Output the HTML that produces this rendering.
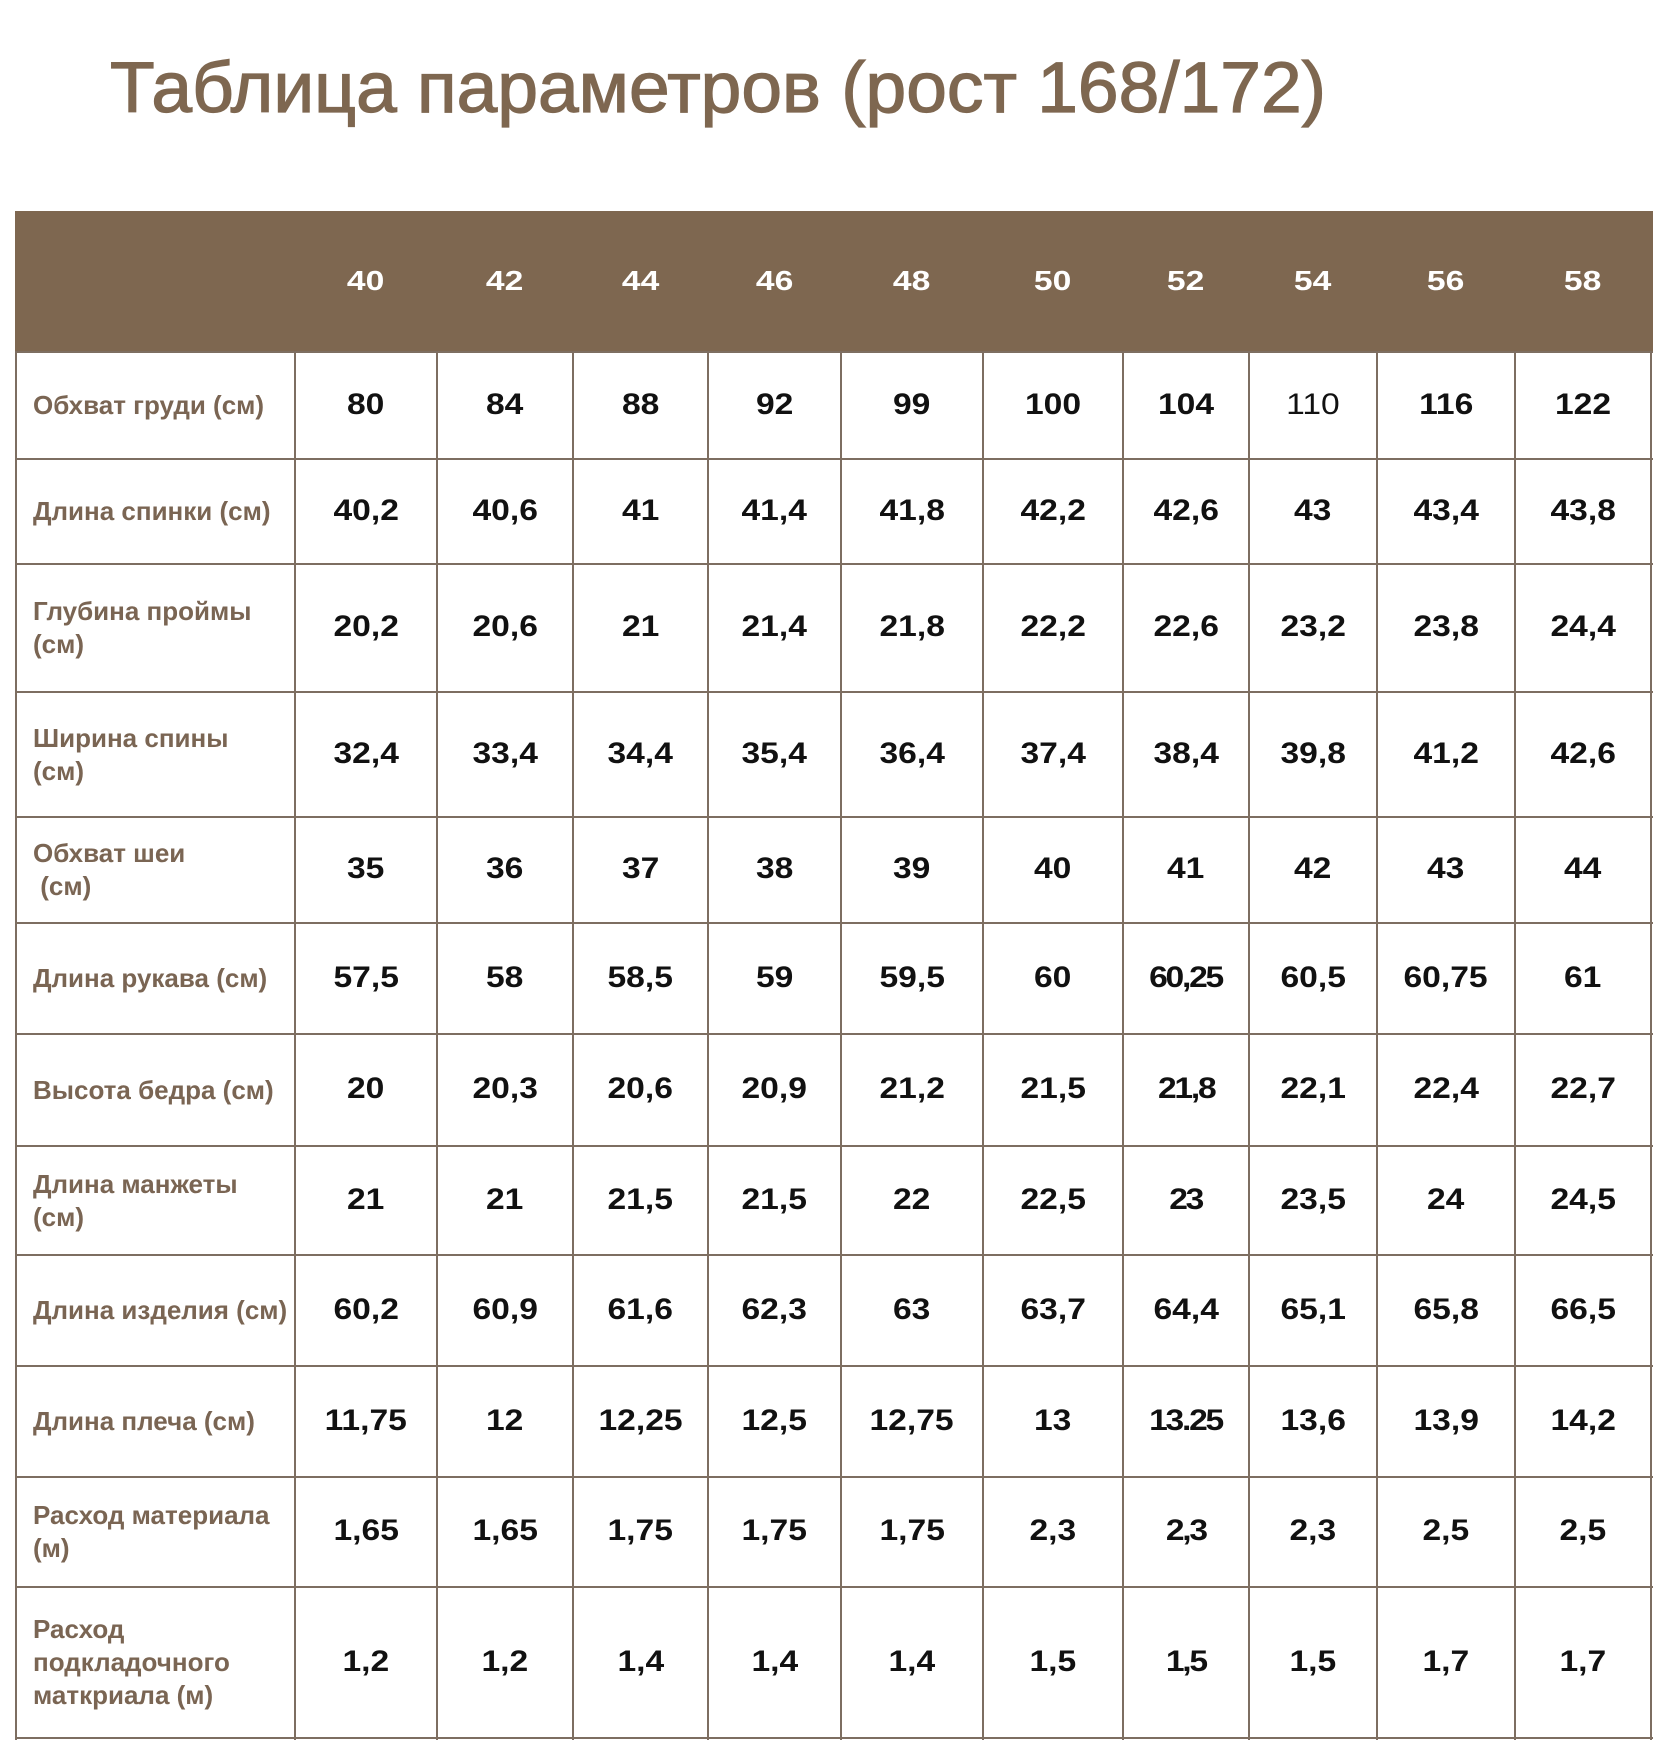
<!DOCTYPE html>
<html><head><meta charset="utf-8">
<style>
html,body{margin:0;padding:0;background:#fff;}
body{width:1680px;height:1763px;position:relative;overflow:hidden;font-family:"Liberation Sans","DejaVu Sans",sans-serif;}
.title{position:absolute;left:110px;top:53px;font-size:71px;line-height:71px;color:#7e6750;white-space:nowrap;transform:scaleX(1.03);transform-origin:left center;-webkit-text-stroke:1.2px #7e6750;}
.hdr{position:absolute;left:15px;top:211px;width:1638px;height:142px;background:#7e6750;}
.grid{position:absolute;left:16px;display:grid;grid-template-columns:279px 142px 136px 135px 133px 142px 140px 126px 128px 138px 136px;}
.g1{top:212px;grid-template-rows:140px;}
.g2{top:352px;grid-template-rows:107px 105px 128px 125px 106px 111px 112px 109px 111px 111px 110px 151px;}
.g2>div,.g1>div{display:flex;align-items:center;justify-content:center;}
.g1>div{color:#fff;font-weight:bold;font-size:28px;padding-bottom:3px;}
.g1 .n{transform:scaleX(1.2);}
.g2>div{color:#111;font-weight:bold;font-size:30px;padding-bottom:2px;}
.n{display:inline-block;transform:scaleX(1.12);}
.g2>div.l{justify-content:flex-start;padding-left:17px;padding-bottom:0;color:#7a6553;font-size:26px;line-height:33px;}
.l span{display:inline-block;white-space:nowrap;}
.t{letter-spacing:-2px;}
.thin{font-weight:normal;}
.hl{position:absolute;left:15px;width:1638px;height:2px;background:#7d6e61;}
.vl{position:absolute;top:352px;height:1388px;width:2px;background:#7d6e61;}
</style></head><body>
<div class="title">Таблица параметров (рост 168/172)</div>
<div class="hdr"></div>
<div class="grid g1">
<div></div><div><span class="n">40</span></div><div><span class="n">42</span></div><div><span class="n">44</span></div><div><span class="n">46</span></div><div><span class="n">48</span></div><div><span class="n">50</span></div><div><span class="n">52</span></div><div><span class="n">54</span></div><div><span class="n">56</span></div><div><span class="n">58</span></div>
</div>

<div class="hl" style="top:351px"></div>
<div class="hl" style="top:458px"></div>
<div class="hl" style="top:563px"></div>
<div class="hl" style="top:691px"></div>
<div class="hl" style="top:816px"></div>
<div class="hl" style="top:922px"></div>
<div class="hl" style="top:1033px"></div>
<div class="hl" style="top:1145px"></div>
<div class="hl" style="top:1254px"></div>
<div class="hl" style="top:1365px"></div>
<div class="hl" style="top:1476px"></div>
<div class="hl" style="top:1586px"></div>
<div class="hl" style="top:1737px"></div>

<div class="vl" style="left:15px"></div>
<div class="vl" style="left:294px"></div>
<div class="vl" style="left:436px"></div>
<div class="vl" style="left:572px"></div>
<div class="vl" style="left:707px"></div>
<div class="vl" style="left:840px"></div>
<div class="vl" style="left:982px"></div>
<div class="vl" style="left:1122px"></div>
<div class="vl" style="left:1248px"></div>
<div class="vl" style="left:1376px"></div>
<div class="vl" style="left:1514px"></div>
<div class="vl" style="left:1650px"></div>

<div class="grid g2">
<div class="l"><span>Обхват груди (см)</span></div>
<div><span class="n">80</span></div><div><span class="n">84</span></div><div><span class="n">88</span></div><div><span class="n">92</span></div><div><span class="n">99</span></div><div><span class="n">100</span></div><div><span class="n">104</span></div><div><span class="n thin">110</span></div><div><span class="n">116</span></div><div><span class="n">122</span></div>

<div class="l"><span>Длина спинки (см)</span></div>
<div><span class="n">40,2</span></div><div><span class="n">40,6</span></div><div><span class="n">41</span></div><div><span class="n">41,4</span></div><div><span class="n">41,8</span></div><div><span class="n">42,2</span></div><div><span class="n">42,6</span></div><div><span class="n">43</span></div><div><span class="n">43,4</span></div><div><span class="n">43,8</span></div>

<div class="l"><span>Глубина проймы<br>(см)</span></div>
<div><span class="n">20,2</span></div><div><span class="n">20,6</span></div><div><span class="n">21</span></div><div><span class="n">21,4</span></div><div><span class="n">21,8</span></div><div><span class="n">22,2</span></div><div><span class="n">22,6</span></div><div><span class="n">23,2</span></div><div><span class="n">23,8</span></div><div><span class="n">24,4</span></div>

<div class="l"><span>Ширина спины<br>(см)</span></div>
<div><span class="n">32,4</span></div><div><span class="n">33,4</span></div><div><span class="n">34,4</span></div><div><span class="n">35,4</span></div><div><span class="n">36,4</span></div><div><span class="n">37,4</span></div><div><span class="n">38,4</span></div><div><span class="n">39,8</span></div><div><span class="n">41,2</span></div><div><span class="n">42,6</span></div>

<div class="l"><span>Обхват шеи<br>&nbsp;(см)</span></div>
<div><span class="n">35</span></div><div><span class="n">36</span></div><div><span class="n">37</span></div><div><span class="n">38</span></div><div><span class="n">39</span></div><div><span class="n">40</span></div><div><span class="n">41</span></div><div><span class="n">42</span></div><div><span class="n">43</span></div><div><span class="n">44</span></div>

<div class="l"><span>Длина рукава (см)</span></div>
<div><span class="n">57,5</span></div><div><span class="n">58</span></div><div><span class="n">58,5</span></div><div><span class="n">59</span></div><div><span class="n">59,5</span></div><div><span class="n">60</span></div><div><span class="n t">60,25</span></div><div><span class="n">60,5</span></div><div><span class="n">60,75</span></div><div><span class="n">61</span></div>

<div class="l"><span>Высота бедра (см)</span></div>
<div><span class="n">20</span></div><div><span class="n">20,3</span></div><div><span class="n">20,6</span></div><div><span class="n">20,9</span></div><div><span class="n">21,2</span></div><div><span class="n">21,5</span></div><div><span class="n t">21,8</span></div><div><span class="n">22,1</span></div><div><span class="n">22,4</span></div><div><span class="n">22,7</span></div>

<div class="l"><span>Длина манжеты<br>(см)</span></div>
<div><span class="n">21</span></div><div><span class="n">21</span></div><div><span class="n">21,5</span></div><div><span class="n">21,5</span></div><div><span class="n">22</span></div><div><span class="n">22,5</span></div><div><span class="n t">23</span></div><div><span class="n">23,5</span></div><div><span class="n">24</span></div><div><span class="n">24,5</span></div>

<div class="l"><span>Длина изделия (см)</span></div>
<div><span class="n">60,2</span></div><div><span class="n">60,9</span></div><div><span class="n">61,6</span></div><div><span class="n">62,3</span></div><div><span class="n">63</span></div><div><span class="n">63,7</span></div><div><span class="n">64,4</span></div><div><span class="n">65,1</span></div><div><span class="n">65,8</span></div><div><span class="n">66,5</span></div>

<div class="l"><span>Длина плеча (см)</span></div>
<div><span class="n">11,75</span></div><div><span class="n">12</span></div><div><span class="n">12,25</span></div><div><span class="n">12,5</span></div><div><span class="n">12,75</span></div><div><span class="n">13</span></div><div><span class="n t">13.25</span></div><div><span class="n">13,6</span></div><div><span class="n">13,9</span></div><div><span class="n">14,2</span></div>

<div class="l"><span>Расход материала<br>(м)</span></div>
<div><span class="n">1,65</span></div><div><span class="n">1,65</span></div><div><span class="n">1,75</span></div><div><span class="n">1,75</span></div><div><span class="n">1,75</span></div><div><span class="n">2,3</span></div><div><span class="n t">2,3</span></div><div><span class="n">2,3</span></div><div><span class="n">2,5</span></div><div><span class="n">2,5</span></div>

<div class="l"><span>Расход<br>подкладочного<br>маткриала (м)</span></div>
<div><span class="n">1,2</span></div><div><span class="n">1,2</span></div><div><span class="n">1,4</span></div><div><span class="n">1,4</span></div><div><span class="n">1,4</span></div><div><span class="n">1,5</span></div><div><span class="n t">1,5</span></div><div><span class="n">1,5</span></div><div><span class="n">1,7</span></div><div><span class="n">1,7</span></div>
</div>
</body></html>
